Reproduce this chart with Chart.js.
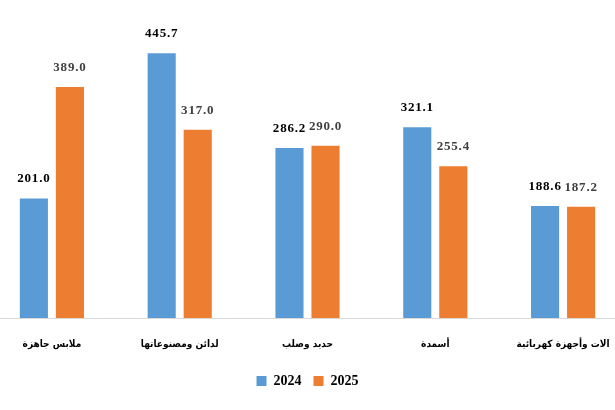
<!DOCTYPE html>
<html>
<head>
<meta charset="utf-8">
<script src="https://cdn.jsdelivr.net/npm/chart.js@4"></script>
<style>
    html, body { margin: 0; padding: 0; background: #ffffff; overflow: hidden; }
    #wrap { position: absolute; left: -12px; top: 0; width: 639px; height: 410px; }
</style>
</head>
<body>
<div id="wrap"><canvas id="chart"></canvas></div>
<script>
// Datos del grafico
const categorias = ['ملابس جاهزة', 'لدائن ومصنوعاتها', 'حديد وصلب', 'أسمدة', 'الات وأجهزة كهربائية'];
const valores2024 = [201.0, 445.7, 286.2, 321.1, 188.6];
const valores2025 = [389.0, 317.0, 290.0, 255.4, 187.2];
const series = ['2024', '2025'];

// Etiquetas de valor encima de cada barra
const valueLabels = {
    id: 'valueLabels',
    afterDatasetsDraw(chart) {
        const ctx = chart.ctx;
        ctx.save();
        ctx.font = 'bold 13px "Liberation Serif", serif';
        ctx.letterSpacing = '0.8px';
        ctx.textAlign = 'center';
        ctx.textBaseline = 'bottom';
        chart.data.datasets.forEach((ds, i) => {
            const meta = chart.getDatasetMeta(i);
            ctx.fillStyle = i === 0 ? '#000000' : '#404040';
            meta.data.forEach((bar, j) => {
                ctx.fillText(ds.data[j].toFixed(1), bar.x, bar.y - 13);
            });
        });
        ctx.restore();
    }
};

const ctx = document.getElementById('chart').getContext('2d');
new Chart(ctx, {
    type: 'bar',
    data: {
        labels: categorias,
        datasets: [{
            label: series[0],
            data: valores2024,
            backgroundColor: '#5B9BD5',
            barPercentage: 0.78,
            categoryPercentage: 0.564
        }, {
            label: series[1],
            data: valores2025,
            backgroundColor: '#ED7D31',
            barPercentage: 0.78,
            categoryPercentage: 0.564
        }]
    },
    options: {
        responsive: true,
        maintainAspectRatio: false,
        animation: false,
        layout: {
            padding: { top: 21, left: 0, right: 0, bottom: 12 }
        },
        plugins: {
            legend: {
                position: 'bottom',
                labels: {
                    boxWidth: 10,
                    boxHeight: 10,
                    padding: 12,
                    color: '#000000',
                    font: { family: '"Liberation Serif", serif', size: 14, weight: 'bold' }
                }
            },
            tooltip: { enabled: false }
        },
        scales: {
            y: {
                display: false,
                min: 0,
                max: 500
            },
            x: {
                grid: { display: false },
                border: { color: '#d9d9d9', width: 1 },
                ticks: {
                    padding: 12,
                    color: '#000000',
                    font: { family: '"DejaVu Sans Condensed", "DejaVu Sans", sans-serif', size: 10, weight: 'bold' }
                }
            }
        }
    },
    plugins: [valueLabels]
});
</script>
</body>
</html>
